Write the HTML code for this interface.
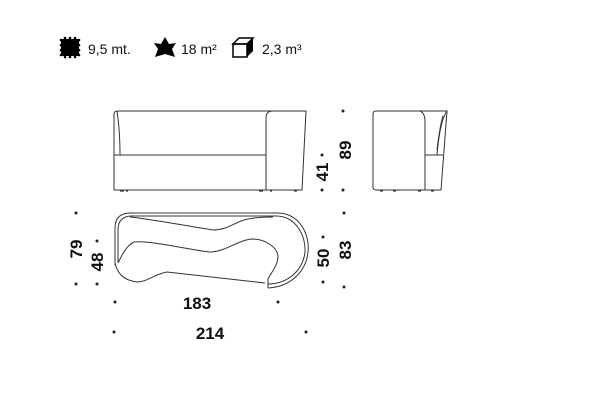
<!DOCTYPE html>
<html><head><meta charset="utf-8"><style>
html,body{margin:0;padding:0;background:#fff;width:600px;height:400px;overflow:hidden}
</style></head><body>
<svg width="600" height="400" viewBox="0 0 600 400" xmlns="http://www.w3.org/2000/svg">
<g font-family="Liberation Sans, sans-serif">
<!-- fabric icon -->
<rect x="61" y="39" width="18" height="17" fill="#000"/>
<g fill="#000">
<circle cx="61" cy="40" r="1.3"/><circle cx="61" cy="45" r="1.3"/><circle cx="61" cy="50" r="1.3"/><circle cx="61" cy="55" r="1.3"/>
<circle cx="79" cy="40" r="1.3"/><circle cx="79" cy="45" r="1.3"/><circle cx="79" cy="50" r="1.3"/><circle cx="79" cy="55" r="1.3"/>
<circle cx="65" cy="38" r="1.3"/><circle cx="70" cy="38" r="1.3"/><circle cx="75" cy="38" r="1.3"/>
<circle cx="65" cy="57" r="1.3"/><circle cx="70" cy="57" r="1.3"/><circle cx="75" cy="57" r="1.3"/>
</g>
<text x="88" y="54" font-size="14" fill="#111">9,5  mt.</text>
<!-- hide icon -->
<path d="M165,37 L169,44 L176,43 L172,49 L175,57 L165,54 L155,57 L158,49 L154,43 L161,44 Z" fill="#000"/>
<text x="181" y="54" font-size="14" fill="#111">18  m²</text>
<!-- cube -->
<g fill="none" stroke="#000" stroke-width="1.5">
<rect x="233" y="44" width="14" height="13" fill="#fff"/>
<path d="M233,44 L239,38 L253,38 L247,44 Z"/>
</g>
<path d="M247,44 L253,38 L253,51 L247,57 Z" fill="#000"/>
<text x="262" y="54" font-size="14" fill="#111">2,3  m³</text>

<!-- front view -->
<g fill="none" stroke="#333" stroke-width="1">
<path d="M114,190 L114,114 Q114,111 118,111 L306,111 L302,190 Z"/>
<path d="M117,111 Q120,130 120,155"/>
<path d="M114,155 L266,155"/>
<path d="M266,190 L266,118 Q266,111 273,111"/>
</g>
<g stroke="#333" stroke-width="1.2">
<line x1="120" y1="191" x2="124" y2="191"/><line x1="126" y1="191" x2="128" y2="191"/>
<line x1="259" y1="191" x2="263" y2="191"/><line x1="270" y1="191" x2="272" y2="191"/><line x1="294" y1="191" x2="297" y2="191"/>
</g>

<!-- side view -->
<g fill="none" stroke="#333" stroke-width="1">
<path d="M376,190 Q373,190 373,187 L373,114 Q373,111 376,111 L420,111 Q425,113 425,122 L425,190 Z"/>
<path d="M420,111 L447,111 L441,190 L425,190"/>
<path d="M425,155 L443,155"/>
<path d="M447,111 Q440,120 437,155"/>
<path d="M443,116 Q440,125 437,150"/>
</g>
<g stroke="#333" stroke-width="1.2">
<line x1="380" y1="191" x2="383" y2="191"/><line x1="393" y1="191" x2="396" y2="191"/><line x1="418" y1="191" x2="421" y2="191"/><line x1="431" y1="191" x2="434" y2="191"/>
</g>

<!-- top view -->
<g fill="none" stroke="#333" stroke-width="1">
<path d="M115,265 L115,228 Q115,213 131,213 L277,213 C300,213 310,235 308,252 C306,272 290,287 268,288"/>
<path d="M118,262 L118,230 Q118,216 132,216 L276,216 C296,216 306,236 305,252 C303,270 288,284 268,284"/>
<path d="M118,263 C122,255 126,246 134,242 C150,240 190,250 210,252 C225,252 238,240 252,239 C265,239 277,247 278,256 C278,266 270,274 268,279 L268,288"/>
<path d="M130,217 C150,219 175,224 213,230 C228,230 236,221 248,219 C258,217 268,217 273,217"/>
<path d="M115,263 C117,272 122,280 137,282 C147,282 155,274 167,272 L265,283"/>
</g>

<!-- dots -->
<g fill="#222">
<circle cx="343" cy="111" r="1.5"/><circle cx="322" cy="155" r="1.5"/><circle cx="322" cy="190" r="1.5"/><circle cx="343" cy="190" r="1.5"/>
<circle cx="76" cy="213" r="1.5"/><circle cx="76" cy="284" r="1.5"/><circle cx="97" cy="241" r="1.5"/><circle cx="97" cy="284" r="1.5"/>
<circle cx="115" cy="302" r="1.5"/><circle cx="278" cy="302" r="1.5"/><circle cx="114" cy="332" r="1.5"/><circle cx="306" cy="332" r="1.5"/>
<circle cx="323" cy="237" r="1.5"/><circle cx="323" cy="282" r="1.5"/><circle cx="344" cy="213" r="1.5"/><circle cx="344" cy="287" r="1.5"/>
</g>

<g font-size="17" font-weight="bold" fill="#111" text-anchor="middle">
<text transform="translate(351,150) rotate(-90)">89</text>
<text transform="translate(328,172) rotate(-90)">41</text>
<text transform="translate(82,249) rotate(-90)">79</text>
<text transform="translate(103,262) rotate(-90)">48</text>
<text transform="translate(329,258) rotate(-90)">50</text>
<text transform="translate(351,250) rotate(-90)">83</text>
<text x="197" y="309">183</text>
<text x="210" y="339">214</text>
</g>
</g>
</svg>
</body></html>
